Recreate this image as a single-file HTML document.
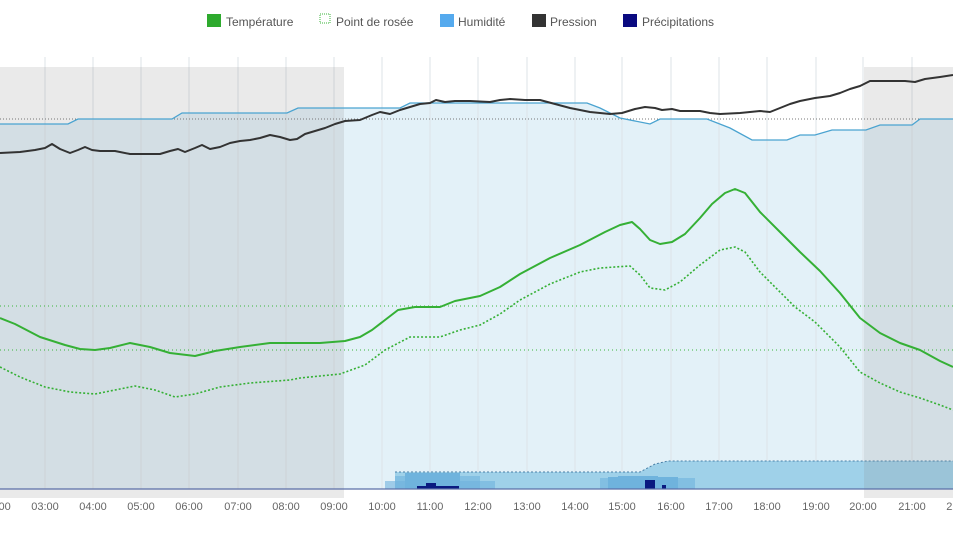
<!DOCTYPE html>
<html><head><meta charset="utf-8"><style>
body{margin:0;background:#fff;width:953px;height:536px;overflow:hidden;font-family:"Liberation Sans",sans-serif}
</style></head><body>
<svg width="953" height="536" viewBox="0 0 953 536" xmlns="http://www.w3.org/2000/svg" font-family="Liberation Sans, sans-serif">
<path d="M0,124 L68,124 L78,119 L172,119 L182,113 L287,113 L298,108 L400,108 L410,103 L587,103 L600,108 L620,118 L650,124 L660,119 L707,119 L730,128 L752,140 L787,140 L800,135 L815,135 L832,130 L866,130 L880,125 L912,125 L920,119 L953,119 L953,489 L0,489 Z" fill="#e3f1f8"/>
<g stroke="#dde3e7" stroke-width="1">
<line x1="45" y1="57" x2="45" y2="489"/><line x1="93" y1="57" x2="93" y2="489"/><line x1="141" y1="57" x2="141" y2="489"/><line x1="189" y1="57" x2="189" y2="489"/><line x1="238" y1="57" x2="238" y2="489"/><line x1="286" y1="57" x2="286" y2="489"/><line x1="334" y1="57" x2="334" y2="489"/><line x1="382" y1="57" x2="382" y2="489"/><line x1="430" y1="57" x2="430" y2="489"/><line x1="478" y1="57" x2="478" y2="489"/><line x1="527" y1="57" x2="527" y2="489"/><line x1="575" y1="57" x2="575" y2="489"/><line x1="622" y1="57" x2="622" y2="489"/><line x1="671" y1="57" x2="671" y2="489"/><line x1="719" y1="57" x2="719" y2="489"/><line x1="767" y1="57" x2="767" y2="489"/><line x1="816" y1="57" x2="816" y2="489"/><line x1="863" y1="57" x2="863" y2="489"/><line x1="912" y1="57" x2="912" y2="489"/>
</g>
<path d="M395,489 L395,472 L640,472 L655,464 L668,461 L953,461 L953,489 Z" fill="#9fd1e9"/>
<path d="M395,472 L640,472 L655,464 L668,461 L953,461" fill="none" stroke="#4a7fa6" stroke-width="1" stroke-dasharray="2,2"/>
<g fill="#6fb3dd">
<rect x="385" y="481" width="110" height="8" opacity="0.6"/><rect x="395" y="476" width="85" height="13" opacity="0.6"/><rect x="405" y="473" width="55" height="16"/>
<rect x="600" y="478" width="95" height="11" opacity="0.6"/><rect x="608" y="477" width="70" height="12"/><rect x="618" y="476" width="40" height="13"/>
</g>
<g fill="#0a1a80">
<rect x="417" y="486" width="42" height="3"/><rect x="426" y="483" width="10" height="6"/>
<rect x="645" y="480" width="10" height="9"/><rect x="662" y="485" width="4" height="4"/>
</g>
<rect x="0" y="67" width="344" height="431" fill="rgb(140,140,140)" fill-opacity="0.18"/>
<rect x="864" y="67" width="89" height="431" fill="rgb(140,140,140)" fill-opacity="0.18"/>
<line x1="0" y1="489" x2="953" y2="489" stroke="#5b6fa8" stroke-width="1.2"/>
<line x1="0" y1="119" x2="953" y2="119" stroke="#777" stroke-width="1" stroke-dasharray="1,2"/>
<line x1="0" y1="306" x2="953" y2="306" stroke="#3bb53b" stroke-width="1" stroke-dasharray="1,3"/>
<line x1="0" y1="350" x2="953" y2="350" stroke="#3bb53b" stroke-width="1" stroke-dasharray="1,3"/>
<path d="M0,124 L68,124 L78,119 L172,119 L182,113 L287,113 L298,108 L400,108 L410,103 L587,103 L600,108 L620,118 L650,124 L660,119 L707,119 L730,128 L752,140 L787,140 L800,135 L815,135 L832,130 L866,130 L880,125 L912,125 L920,119 L953,119" fill="none" stroke="#4aa3d0" stroke-width="1.3"/>
<polyline fill="none" stroke="#333" stroke-width="2" stroke-linejoin="round" points="0,153 20,152 35,150 45,148 52,144 60,149 70,153 78,150 85,147 92,150 100,151 115,151 130,154 160,154 170,151 178,149 185,152 195,148 202,145 210,149 220,147 230,143 240,141 250,140 260,138 270,135 280,137 290,140 297,139 305,134 315,131 325,128 335,124 345,121 360,120 372,115 380,112 390,114 400,110 410,107 420,104 430,103 436,100 445,102 455,101 470,101 490,102 500,100 510,99 525,100 540,100 555,104 570,108 590,112 610,114 622,113 635,109 645,107 655,108 662,110 672,109 680,111 700,111 710,113 720,114 740,113 760,111 770,112 780,108 790,104 800,101 815,98 830,96 840,93 850,89 860,86 870,81 890,81 905,81 915,82 925,79 940,77 953,75"/>
<polyline fill="none" stroke="#35b035" stroke-width="2" stroke-linejoin="round" points="0,318 15,324 40,337 65,345 80,349 95,350 110,348 130,343 150,347 170,353 195,356 215,351 240,347 270,343 320,343 345,341 360,337 372,330 385,320 398,310 415,307 440,307 455,301 480,296 500,287 520,274 550,258 580,245 605,232 620,225 632,222 640,229 650,240 660,244 672,242 685,234 700,218 712,204 725,193 735,189 745,193 760,212 780,232 800,252 820,271 840,293 860,318 880,333 900,343 920,350 940,361 953,367"/>
<polyline fill="none" stroke="#35b035" stroke-width="1.6" stroke-dasharray="2,2" stroke-linejoin="round" points="0,367 20,377 45,387 70,392 95,394 115,390 135,386 155,390 175,397 195,394 220,387 250,383 290,380 300,378 340,374 365,365 385,350 410,337 440,337 460,330 480,325 500,314 520,300 550,284 580,272 600,268 630,266 640,275 650,288 665,290 680,282 700,265 720,250 735,247 745,252 760,272 775,287 795,307 815,322 840,347 860,372 880,383 900,392 920,398 940,405 953,410"/>
<g font-size="11" fill="#666" text-anchor="middle">
<text x="-3" y="510">02:00</text><text x="45" y="510">03:00</text><text x="93" y="510">04:00</text><text x="141" y="510">05:00</text><text x="189" y="510">06:00</text><text x="238" y="510">07:00</text><text x="286" y="510">08:00</text><text x="334" y="510">09:00</text><text x="382" y="510">10:00</text><text x="430" y="510">11:00</text><text x="478" y="510">12:00</text><text x="527" y="510">13:00</text><text x="575" y="510">14:00</text><text x="622" y="510">15:00</text><text x="671" y="510">16:00</text><text x="719" y="510">17:00</text><text x="767" y="510">18:00</text><text x="816" y="510">19:00</text><text x="863" y="510">20:00</text><text x="912" y="510">21:00</text><text x="960" y="510">22:00</text>
</g>
<g font-size="12" fill="#555">
<rect x="207" y="14" width="14" height="13" fill="#2eaa2e"/><text x="226" y="26">Température</text>
<rect x="320" y="14" width="10" height="9" fill="none" stroke="#3bb53b" stroke-dasharray="1,1"/><text x="336" y="26">Point de rosée</text>
<rect x="440" y="14" width="14" height="13" fill="#55aaee"/><text x="458" y="26">Humidité</text>
<rect x="532" y="14" width="14" height="13" fill="#333"/><text x="550" y="26">Pression</text>
<rect x="623" y="14" width="14" height="13" fill="#0a0a80"/><text x="642" y="26">Précipitations</text>
</g>
</svg>
</body></html>
